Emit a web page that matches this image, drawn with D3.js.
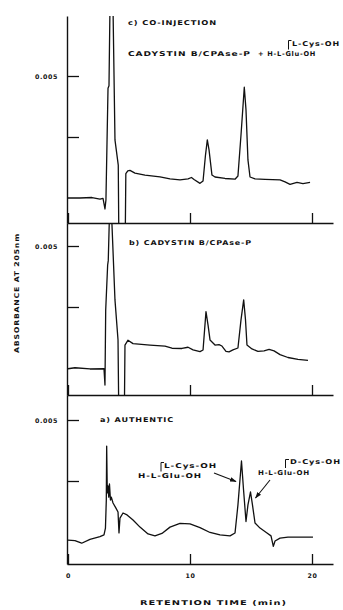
<!DOCTYPE html>
<html>
<head>
<meta charset="utf-8">
<script src="https://cdn.jsdelivr.net/npm/d3@7/dist/d3.min.js"></script>
<style>
  body { margin: 0; background: #fff; }
  text { font-family: "DejaVu Sans", Verdana, sans-serif; font-weight: bold; fill: #111; }
</style>
</head>
<body>
<div id="chart"></div>
<script>
// traces: [retention time (min), absorbance in 0.001 AU]
var coInjection = [
  [0, 0.0], [0.98, 0.0], [1.97, 0.02], [2.62, -0.05], [2.87, -0.02], [3.03, -0.45], [3.11, -0.08],
  [3.28, 4.5], [3.36, 4.6], [3.44, 7.8], [3.69, 7.8], [3.85, 2.38], [4.12, 1.35], [4.16, -1.2],
  [4.70, -1.2], [4.74, 1.0], [4.90, 1.11], [5.08, 1.13], [5.49, 1.02], [6.31, 0.94], [7.54, 0.87],
  [8.36, 0.78], [9.18, 0.74], [9.84, 0.78], [10.12, 0.84], [10.33, 0.76], [10.82, 0.60], [11.07, 0.70],
  [11.27, 1.76], [11.42, 2.38], [11.56, 1.97], [11.80, 0.94], [12.05, 0.86], [12.87, 0.80], [13.69, 0.77],
  [13.93, 0.90], [14.18, 2.58], [14.45, 4.54], [14.59, 3.61], [14.75, 1.56], [14.92, 0.86], [15.33, 0.78],
  [16.15, 0.76], [17.38, 0.74], [17.79, 0.66], [18.2, 0.56], [18.77, 0.64], [19.26, 0.59], [19.84, 0.64]
];
var cadystin = [
  [0, -0.03], [0.57, 0.01], [1.80, -0.04], [2.95, -0.03], [3.03, -0.70], [3.09, 2.38], [3.25, 4.22],
  [3.30, 4.4], [3.40, 6.3], [3.57, 6.3], [3.85, 2.79], [4.10, 1.15], [4.15, -1.3], [4.63, -1.3],
  [4.67, 0.94], [4.92, 1.14], [5.33, 1.00], [6.72, 0.94], [7.95, 0.90], [8.52, 0.81], [9.34, 0.80],
  [9.84, 0.85], [10.25, 0.74], [10.82, 0.67], [11.07, 0.74], [11.31, 2.31], [11.48, 1.76], [11.64, 1.15],
  [12.05, 0.94], [12.38, 0.96], [12.62, 0.90], [12.95, 0.68], [13.20, 0.66], [13.52, 0.74], [13.93, 0.82],
  [14.18, 1.97], [14.40, 2.79], [14.55, 1.97], [14.67, 0.94], [15.08, 0.78], [15.57, 0.68], [16.07, 0.70],
  [16.48, 0.76], [16.89, 0.70], [17.38, 0.55], [18.03, 0.43], [18.85, 0.35], [19.67, 0.31]
];
var authentic = [
  [0, 0.08], [0.57, 0.06], [1.12, -0.05], [1.80, 0.11], [2.62, 0.22], [2.95, 0.29], [3.07, 0.57],
  [3.14, 1.72], [3.17, 3.93], [3.22, 2.01], [3.28, 2.30], [3.34, 1.84], [3.40, 2.38], [3.48, 1.72],
  [3.55, 1.84], [3.69, 1.60], [3.93, 1.39], [4.10, 1.23], [4.18, 0.37], [4.26, 0.98], [4.51, 1.19],
  [4.84, 1.11], [5.33, 0.90], [5.90, 0.61], [6.56, 0.33], [7.13, 0.25], [7.70, 0.35], [8.36, 0.61],
  [9.18, 0.76], [10.0, 0.74], [10.82, 0.59], [11.64, 0.39], [12.46, 0.29], [13.28, 0.25], [13.69, 0.37],
  [13.93, 1.52], [14.22, 3.32], [14.39, 2.13], [14.59, 0.84], [14.75, 1.52], [14.96, 2.05], [15.12, 1.52],
  [15.33, 0.78], [15.74, 0.57], [16.31, 0.37], [16.64, 0.25], [16.83, -0.18], [16.97, 0.04], [17.38, 0.16],
  [18.03, 0.20], [19.02, 0.20], [20.08, 0.20]
];
var xTicks = [0, 10, 20];
var xTickLabels = ["0", "10", "20"];
var yTicks = [2.5, 5];
var yTickLabels = ["", "0.005"];

var W = 343, H = 610;
var pxPerUnit = 24.4;   // px per 0.001 AU, same in every panel
var ink = "#111";

var svg = d3.select("#chart").append("svg").attr("width", W).attr("height", H);
svg.append("rect").attr("width", W).attr("height", H).attr("fill", "#fff");

var defs = svg.append("defs");
defs.append("marker")
  .attr("id", "arrow").attr("viewBox", "0 0 10 10")
  .attr("refX", 9).attr("refY", 5)
  .attr("markerWidth", 6).attr("markerHeight", 6)
  .attr("orient", "auto")
  .append("path").attr("d", "M0,1.5L10,5L0,8.5z").attr("fill", ink);

var x = d3.scaleLinear().domain([0, 20]).range([68, 312]);
var xAxisScale = d3.scaleLinear().domain([x.invert(67), x.invert(333)]).range([67, 333]);

var panels = [
  {name: "c", top: 16, bottom: 223, zero: 198, data: coInjection},
  {name: "b", top: 223, bottom: 395, zero: 368, data: cadystin},
  {name: "a", top: 395, bottom: 564, zero: 542, data: authentic}
];

panels.forEach(function(p, i) {
  var y = d3.scaleLinear()
    .domain([(p.zero - p.bottom) / pxPerUnit, (p.zero - p.top) / pxPerUnit])
    .range([p.bottom, p.top]);

  defs.append("clipPath").attr("id", "clip-" + p.name)
    .append("rect").attr("x", 67).attr("y", p.top).attr("width", W - 67).attr("height", p.bottom - p.top);

  var line = d3.line()
    .x(function(d) { return x(d[0]); })
    .y(function(d) { return y(d[1]); });

  svg.append("path")
    .datum(p.data)
    .attr("clip-path", "url(#clip-" + p.name + ")")
    .attr("d", line)
    .attr("fill", "none")
    .attr("stroke", ink)
    .attr("stroke-width", 1.3)
    .attr("stroke-linejoin", "round");

  var yAxis = svg.append("g")
    .attr("transform", "translate(67,0)")
    .call(d3.axisLeft(y).tickValues(yTicks).tickSizeInner(-12).tickSizeOuter(0).tickPadding(9)
      .tickFormat(function(d, j) { return yTickLabels[j]; }));

  var xAxis = svg.append("g")
    .attr("transform", "translate(0," + p.bottom + ")")
    .call(d3.axisBottom(xAxisScale).tickValues(xTicks).tickSizeInner(-10).tickSizeOuter(0).tickPadding(10)
      .tickFormat(function(d, j) { return i === panels.length - 1 ? xTickLabels[j] : ""; }));

  [yAxis, xAxis].forEach(function(g) {
    g.attr("font-family", null).attr("font-size", null);
    g.select(".domain").attr("stroke", ink).attr("stroke-width", 1.4);
    g.selectAll(".tick line").attr("stroke", ink).attr("stroke-width", 1.3);
    g.selectAll(".tick text").attr("fill", ink).style("font-size", "6.3px").style("letter-spacing", "0.6px");
  });
});

// titles and peak annotations
var labels = [
  {t: "c) CO-INJECTION", x: 128, y: 25, w: 89},
  {t: "CADYSTIN B/CPAse-P", x: 128, y: 56, w: 123},
  {t: "+ H-L-Glu-OH", x: 258, y: 56, w: 58},
  {t: "L-Cys-OH", x: 292, y: 45.5, w: 48},
  {t: "b) CADYSTIN B/CPAse-P", x: 129, y: 245, w: 123},
  {t: "a) AUTHENTIC", x: 100, y: 422, w: 74},
  {t: "L-Cys-OH", x: 164, y: 467.5, w: 53},
  {t: "H-L-Glu-OH", x: 138, y: 478, w: 64},
  {t: "D-Cys-OH", x: 290, y: 464, w: 51},
  {t: "H-L-Glu-OH", x: 258, y: 474.5, w: 52},
  {t: "RETENTION TIME (min)", x: 140, y: 604.5, w: 147}
];
svg.selectAll("text.lbl")
  .data(labels).enter().append("text")
  .attr("class", "lbl")
  .attr("x", function(d) { return d.x; })
  .attr("y", function(d) { return d.y; })
  .attr("textLength", function(d) { return d.w; })
  .attr("lengthAdjust", "spacingAndGlyphs")
  .style("font-size", "6.6px")
  .style("letter-spacing", "0.7px")
  .text(function(d) { return d.t; });

svg.append("text")
  .attr("transform", "translate(18.5,353) rotate(-90)")
  .attr("textLength", 120)
  .attr("lengthAdjust", "spacingAndGlyphs")
  .style("font-size", "6.6px")
  .style("letter-spacing", "0.7px")
  .text("ABSORBANCE AT 205nm");

// side-chain brackets over the Glu residue
var brackets = [[288.5, 49.5, 40.5, 291.5], [161, 471.5, 462.5, 164], [285.5, 468, 459.5, 289]];
brackets.forEach(function(b) {
  svg.append("path")
    .attr("d", "M" + b[0] + "," + b[1] + "V" + b[2] + "H" + b[3])
    .attr("fill", "none").attr("stroke", ink).attr("stroke-width", 1);
});

var arrows = [[214, 473, 236, 481.5], [270, 480, 255.5, 498]];
arrows.forEach(function(a) {
  svg.append("line")
    .attr("x1", a[0]).attr("y1", a[1]).attr("x2", a[2]).attr("y2", a[3])
    .attr("stroke", ink).attr("stroke-width", 1.1)
    .attr("marker-end", "url(#arrow)");
});
</script>
</body>
</html>
